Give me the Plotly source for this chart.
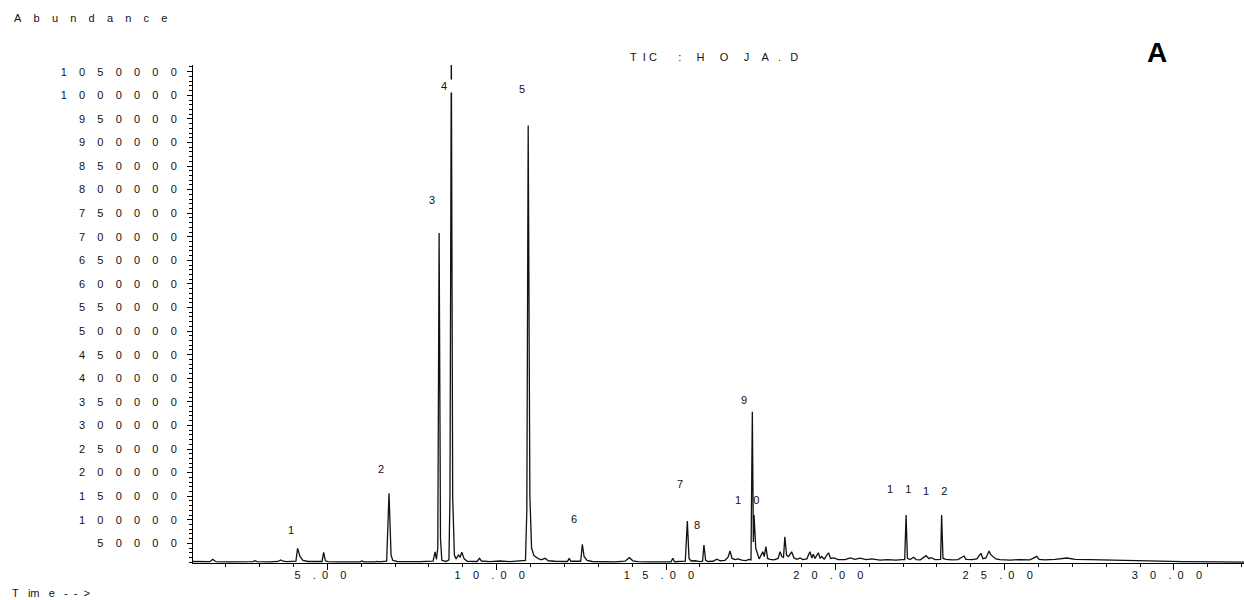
import plotly.graph_objects as go

NB = "\u00a0"

def spaced(s, gap=4, dot_gap=2):
    out = []
    for i, ch in enumerate(s):
        out.append(ch)
        if i < len(s) - 1:
            out.append(NB * (dot_gap if ch == "." else gap))
    return "".join(out)

# Retention time (min) and abundance
time_min = [1.03, 1.53, 1.61, 1.71, 2.12, 2.80, 2.86, 2.92, 3.30, 3.54, 3.62, 3.69, 3.80,
            4.07, 4.12, 4.19, 4.28, 4.43, 4.84, 4.89, 4.94, 5.02, 5.37, 5.96, 6.02, 6.08,
            6.40, 6.46, 6.52, 6.75, 6.82, 6.88, 6.93, 7.06, 7.73, 8.12, 8.18, 8.22, 8.26,
            8.30, 8.34, 8.38, 8.50, 8.59, 8.62, 8.66, 8.70, 8.75, 8.80, 8.87, 8.92, 8.97,
            9.04, 9.13, 9.42, 9.49, 9.55, 9.80, 10.10, 10.24, 10.39, 10.85, 10.89, 10.93,
            10.98, 11.03, 11.10, 11.22, 11.31, 11.43, 11.52, 11.72, 12.09, 12.14, 12.19,
            12.48, 12.53, 12.58, 12.67, 12.82, 13.05, 13.49, 13.79, 13.92, 14.02, 14.17,
            14.53, 15.15, 15.20, 15.25, 15.57, 15.63, 15.68, 15.74, 15.86, 16.00, 16.08,
            16.12, 16.17, 16.24, 16.39, 16.50, 16.60, 16.74, 16.83, 16.89, 16.95, 17.04,
            17.13, 17.24, 17.36, 17.45, 17.51, 17.55, 17.58, 17.60, 17.65, 17.70, 17.75,
            17.86, 17.90, 17.95, 18.00, 18.07, 18.19, 18.31, 18.37, 18.42, 18.47, 18.51,
            18.56, 18.62, 18.71, 18.78, 18.87, 18.96, 19.04, 19.16, 19.25, 19.31, 19.35,
            19.40, 19.50, 19.55, 19.60, 19.67, 19.80, 19.86, 19.96, 20.08, 20.29, 20.44,
            20.58, 20.73, 20.91, 21.08, 21.32, 21.55, 21.79, 21.97, 22.05, 22.09, 22.13,
            22.21, 22.31, 22.39, 22.51, 22.68, 22.77, 22.83, 22.95, 23.11, 23.14, 23.18,
            23.27, 23.45, 23.62, 23.80, 23.86, 24.04, 24.18, 24.30, 24.36, 24.45, 24.54,
            24.59, 24.66, 24.74, 24.86, 25.16, 25.45, 25.75, 25.95, 26.02, 26.19, 26.49,
            26.84, 27.08, 27.52, 28.02, 28.71, 29.30, 30.27, 31.36, 32.07]
abundance = [11400, 11200, 16100, 11000, 10800, 11000, 13000, 11000, 10800, 11500, 14600, 12000, 11000,
             12000, 39400, 22000, 14000, 11500, 11500, 31000, 13000, 11000, 10500, 10500, 12500, 10500,
             10800, 11800, 10800, 12000, 156000, 25000, 14000, 11500, 11000, 12000, 32000, 16000, 40000,
             708000, 60000, 14000, 11500, 15000, 150000, 1100000, 150000, 25000, 17000, 25000, 21000, 31000,
             17000, 12000, 11500, 18200, 12500, 11000, 12500, 12500, 11000, 14000, 120000, 936000,
             150000, 40000, 24000, 18000, 15000, 18200, 13000, 12000, 11500, 18200, 12000,
             12000, 47900, 22000, 14000, 11500, 11000, 10500, 12000, 19500, 13000, 11000,
             10500, 10800, 18200, 11000, 12000, 97300, 18000, 12500, 13000, 11000, 12000,
             46400, 14000, 11500, 12000, 16500, 13000, 14000, 20000, 33700, 18000, 15500,
             17000, 14500, 13500, 16000, 15000, 329000, 53000, 110000, 40000, 28800, 17000,
             32200, 22000, 42900, 18000, 16000, 15000, 18000, 32200, 22000, 20000, 64000,
             25000, 22000, 32000, 19000, 16000, 19000, 15500, 17000, 32000, 19000, 27000,
             18000, 30000, 18000, 22000, 16500, 30000, 18000, 19000, 15500, 15500, 19000,
             16000, 18500, 15500, 17000, 14500, 15500, 14500, 15500, 15500, 110000, 18000,
             15500, 20300, 15500, 15000, 23800, 17500, 19500, 15500, 16000, 110000, 18000,
             16000, 15000, 15500, 23000, 16000, 15500, 17000, 28800, 17500, 19000, 33700,
             26000, 21000, 17000, 15500, 14500, 15500, 15000, 22400, 16000, 15000, 16000,
             18900, 16000, 15500, 14600, 13000, 12000, 11000, 10500, 10300]

# Peak labels
peak_labels = ["1", "2", "3", "5", "6", "7", "8", "9", "10", "11", "12"]
peak_label_t = [3.92, 6.58, 8.10, 10.74, 12.29, 15.41, 15.92, 17.30, 17.40, 21.87, 22.93]
peak_label_a = [78200, 207500, 777600, 1013100, 101500, 175700, 88800, 353800, 141800, 164500, 161500]
peak4_label_t = 8.325
peak4_label_a = 1019300

x_tick_vals = [5, 10, 15, 20, 25, 30]
x_tick_text = ["5.00", "10.00", "15.00", "20.00", "25.00", "30.00"]
y_tick_vals = list(range(50000, 1050001, 50000))
y_tick_text = [str(v) for v in y_tick_vals]

FONT = "Liberation Sans, Arial, sans-serif"
INK = "#111111"

fig = go.Figure()
fig.add_trace(go.Scatter(x=time_min, y=abundance, mode="lines",
                         line=dict(color=INK, width=1.3), showlegend=False,
                         hoverinfo="skip"))

annotations = []
for lab, t, a in zip(peak_labels, peak_label_t, peak_label_a):
    annotations.append(dict(x=t, y=a, xref="x", yref="y", text=spaced(lab),
                            showarrow=False, font=dict(family=FONT, size=11, color=INK)))
annotations.append(dict(x=peak4_label_t, y=peak4_label_a, xref="x", yref="y",
                        text="4" + NB * 3, xanchor="left", showarrow=False,
                        bgcolor="white", borderpad=0,
                        font=dict(family=FONT, size=11, color=INK)))

title_txt = ("T" + NB * 2 + "I" + NB + "C" + NB * 7 + ":" + NB * 5 + "H" + NB * 5 + "O" + NB * 5 +
             "J" + NB * 4 + "A" + NB * 3 + "." + NB * 3 + "D")
annotations.append(dict(x=0.4139, y=1.0167, xref="paper", yref="paper", text=title_txt,
                        xanchor="left", yanchor="middle", showarrow=False,
                        font=dict(family=FONT, size=11, color=INK)))
annotations.append(dict(x=0.9172, y=1.0261, xref="paper", yref="paper", text="<b>A</b>",
                        xanchor="center", yanchor="middle", showarrow=False,
                        font=dict(family=FONT, size=28, color="black")))
annotations.append(dict(x=-0.1722, y=1.0938, xref="paper", yref="paper",
                        text=spaced("Abundance"), xanchor="left", yanchor="middle",
                        showarrow=False, font=dict(family=FONT, size=11, color=INK)))
time_txt = "T" + NB * 3 + "im" + NB * 3 + "e" + NB * 3 + "-" + NB * 2 + "-" + NB * 2 + ">"
annotations.append(dict(x=-0.1741, y=-0.0602, xref="paper", yref="paper",
                        text=time_txt, xanchor="left", yanchor="middle",
                        showarrow=False, font=dict(family=FONT, size=11, color=INK)))

fig.update_layout(
    width=1244, height=600,
    margin=dict(l=193, r=0, t=65, b=37),
    paper_bgcolor="white", plot_bgcolor="white",
    annotations=annotations,
    xaxis=dict(range=[1.031, 32.07], showgrid=False, zeroline=False,
               showline=True, linecolor="black", linewidth=1,
               tickmode="array", tickvals=x_tick_vals,
               ticktext=[spaced(s) for s in x_tick_text],
               ticks="outside", ticklen=6, tickcolor="black", tickwidth=1,
               ticklabelshift=-7, ticklabelstandoff=-4,
               tickfont=dict(family=FONT, size=11, color=INK),
               minor=dict(tickmode="array", tickvals=list(range(2, 33)),
                          ticks="outside", ticklen=3, tickcolor="black", tickwidth=1)),
    yaxis=dict(range=[8270, 1064230], showgrid=False, zeroline=False,
               showline=True, linecolor="black", linewidth=1,
               tickmode="array", tickvals=y_tick_vals,
               ticktext=[spaced(s) for s in y_tick_text],
               ticks="outside", ticklen=5, tickcolor="black", tickwidth=1,
               ticklabelstandoff=8,
               tickfont=dict(family=FONT, size=11, color=INK),
               minor=dict(tickmode="array", tickvals=list(range(10000, 1060001, 10000)),
                          ticks="outside", ticklen=3, tickcolor="black", tickwidth=1)),
)

fig.write_html("out.html")
